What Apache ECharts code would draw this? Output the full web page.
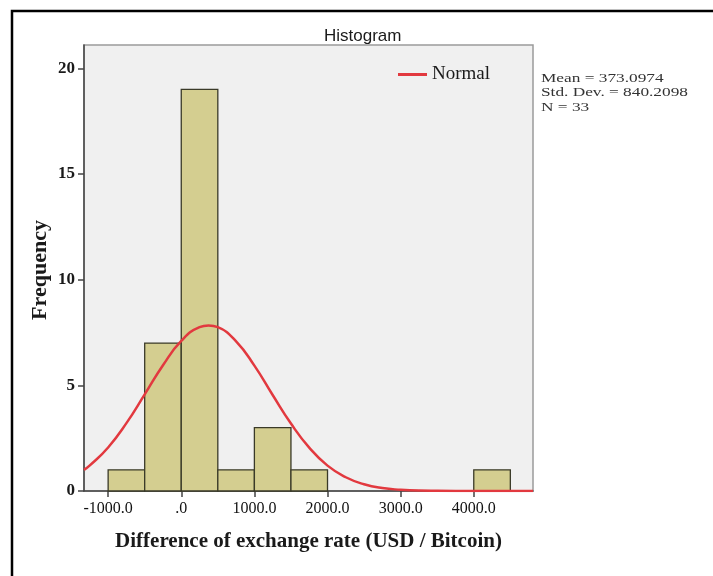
<!DOCTYPE html>
<html>
<head>
<meta charset="utf-8">
<script src="https://cdn.jsdelivr.net/npm/echarts@6/dist/echarts.min.js"></script>
<style>
  html, body { margin: 0; padding: 0; background: #fff; }
  #chart { width: 713px; height: 576px; }
</style>
</head>
<body>
<div id="chart"></div>
<script>
// Histogram bins (USD / Bitcoin) and their counts
const binStarts = [-1000, -500, 0, 500, 1000, 1500, 4000];
const binEnds   = [-500, 0, 500, 1000, 1500, 2000, 4500];
const binCounts = [1, 7, 19, 1, 3, 1, 1];

// Fitted normal curve, sampled along the x range
const curveX = [-1330, -1250, -1000, -750, -500, -250, 0, 250, 373, 500, 750, 1000,
                1250, 1500, 1750, 2000, 2250, 2500, 2750, 3000, 3250, 3500, 4000, 4810];
const curveY = [1.00, 1.21, 2.06, 3.21, 4.57, 5.95, 7.10, 7.75, 7.83, 7.75, 7.08, 5.93,
                4.54, 3.19, 2.05, 1.20, 0.65, 0.32, 0.14, 0.06, 0.02, 0.01, 0.00, 0.00];

// Axis ticks
const xTickValues = [-1000, 0, 1000, 2000, 3000, 4000];
const xTickLabels = ['-1000.0', '.0', '1000.0', '2000.0', '3000.0', '4000.0'];
const yTickValues = [0, 5, 10, 15, 20];

// Summary statistics
const statLines = ['Mean = 373.0974', 'Std. Dev. = 840.2098', 'N = 33'];

const serif = '"Liberation Serif", "Times New Roman", serif';

const chart = echarts.init(document.getElementById('chart'), null, { renderer: 'canvas' });

const barData = binCounts.map((c, i) => [binStarts[i], binEnds[i], c]);
const curveData = curveX.map((x, i) => [x, curveY[i]]);

chart.setOption({
  backgroundColor: '#ffffff',
  animation: false,
  title: {
    text: 'Histogram',
    left: 319,
    top: 23,
    textStyle: { fontFamily: '"Liberation Sans", Arial, sans-serif', fontSize: 17, fontWeight: 'normal', color: '#1a1a1a' }
  },
  legend: {
    data: [{ name: 'Normal', icon: 'rect' }],
    left: 393,
    top: 60,
    itemWidth: 29,
    itemHeight: 3,
    textStyle: { fontFamily: serif, fontSize: 19, color: '#1a1a1a' }
  },
  grid: {
    left: 84, top: 45, width: 449, height: 446,
    show: true,
    backgroundColor: '#f0f0f0',
    borderColor: '#9a9a9a',
    borderWidth: 1.5
  },
  xAxis: {
    type: 'value',
    min: -1330,
    max: 4810,
    name: 'Difference of exchange rate (USD / Bitcoin)',
    nameLocation: 'middle',
    nameGap: 40,
    nameTextStyle: { fontFamily: serif, fontSize: 21, fontWeight: 'bold', color: '#1a1a1a' },
    axisLine: { show: true, onZero: false, lineStyle: { color: '#444', width: 1.5 } },
    axisTick: { show: true, length: 6, customValues: xTickValues, lineStyle: { color: '#444', width: 1.5 } },
    axisLabel: {
      customValues: xTickValues,
      margin: 10,
      fontFamily: serif, fontSize: 16, color: '#111',
      formatter: v => xTickLabels[xTickValues.indexOf(v)]
    },
    splitLine: { show: false }
  },
  yAxis: {
    type: 'value',
    min: 0,
    max: 21.1,
    axisLine: { show: true, onZero: false, lineStyle: { color: '#444', width: 1.5 } },
    axisTick: { show: true, length: 6, customValues: yTickValues, lineStyle: { color: '#444', width: 1.5 } },
    axisLabel: {
      customValues: yTickValues,
      margin: 9,
      fontFamily: serif, fontSize: 17, fontWeight: 'bold', color: '#1a1a1a'
    },
    splitLine: { show: false }
  },
  series: [
    {
      type: 'custom',
      name: 'Histogram',
      data: barData,
      encode: { x: [0, 1], y: 2 },
      renderItem: function (params, api) {
        const p0 = api.coord([api.value(0), api.value(2)]);
        const p1 = api.coord([api.value(1), 0]);
        return {
          type: 'rect',
          shape: { x: p0[0], y: p0[1], width: p1[0] - p0[0], height: p1[1] - p0[1] },
          style: { fill: '#d4ce90', stroke: '#3a3a28', lineWidth: 1.3 }
        };
      },
      z: 2
    },
    {
      type: 'line',
      name: 'Normal',
      data: curveData,
      smooth: true,
      showSymbol: false,
      lineStyle: { color: '#e2393f', width: 2.5 },
      itemStyle: { color: '#e2393f' },
      z: 3
    }
  ],
  graphic: [
    // y-axis title
    {
      type: 'text',
      x: 40,
      y: 270,
      rotation: Math.PI / 2,
      style: {
        text: 'Frequency',
        font: 'bold 22px ' + serif,
        fill: '#1a1a1a',
        align: 'center',
        verticalAlign: 'middle'
      }
    },
    {
      type: 'text',
      x: 541,
      y: 71,
      scaleX: 1.33,
      style: {
        text: statLines.join('\n'),
        font: '13px ' + serif,
        lineHeight: 14.5,
        fill: '#333'
      }
    },
    // frame around the output
    {
      type: 'polyline',
      shape: { points: [[12, 576], [12, 11], [713, 11]] },
      style: { stroke: '#000', lineWidth: 2.5, fill: null }
    }
  ]
});
</script>
</body>
</html>
